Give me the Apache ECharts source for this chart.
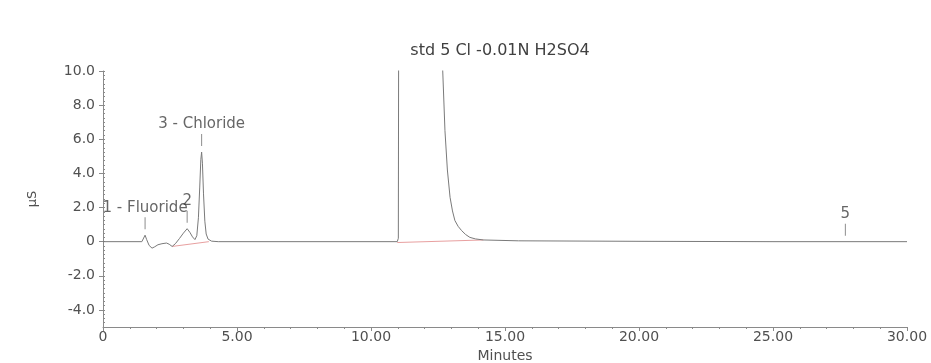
<!DOCTYPE html>
<html>
<head>
<meta charset="utf-8">
<script src="https://cdn.jsdelivr.net/npm/echarts@6/dist/echarts.min.js"></script>
<style>html,body{margin:0;padding:0;background:#fff;}#c{width:931px;height:363px;}</style>
</head>
<body>
<div id="c"></div>
<script>
// Chromatogram trace (minutes, µS)
var traceTimes  = [0, 1.45, 1.52, 1.57, 1.63, 1.72, 1.83, 1.93, 2.05, 2.2, 2.37, 2.47, 2.58, 2.7, 2.85, 3.0, 3.14, 3.24, 3.34, 3.43, 3.5, 3.56, 3.61, 3.65, 3.68, 3.71, 3.75, 3.8, 3.85, 3.92, 4.05, 4.3, 10.98, 11.02, 11.05, 11.8, 12.55, 12.675, 12.76, 12.85, 12.95, 13.04, 13.13, 13.25, 13.38, 13.53, 13.69, 13.9, 14.19, 15.5, 20, 25, 30];
var traceValues = [0, 0, 0.1, 0.38, 0.12, -0.22, -0.38, -0.3, -0.18, -0.12, -0.08, -0.15, -0.28, -0.12, 0.18, 0.5, 0.76, 0.55, 0.28, 0.12, 0.35, 1.4, 3.2, 4.8, 5.25, 4.6, 2.8, 1.2, 0.45, 0.15, 0.03, 0, 0, 0.2, 30, 60, 30, 10.06, 6.5, 4.2, 2.6, 1.8, 1.24, 0.9, 0.65, 0.42, 0.25, 0.16, 0.1, 0.05, 0.02, 0, 0];

// Integration baselines
var baseline1Times  = [2.58, 3.95];
var baseline1Values = [-0.28, 0.0];
var baseline2Times  = [10.98, 14.2];
var baseline2Values = [-0.05, 0.1];

// Peak annotations
var peakNames   = ['1 - Fluoride', '2', '3 - Chloride', '5'];
var peakTimes   = [1.57, 3.14, 3.68, 27.7];
var peakHeights = [0.38, 0.76, 5.25, 0];

var yMajorTicks = [-4, -2, 0, 2, 4, 6, 8, 10];

var FONT = '"DejaVu Sans", Verdana, sans-serif';
var AXIS = '#8a8a8a';
var TEXT = '#505050';

function zip(a, b) { return a.map(function (v, i) { return [v, b[i]]; }); }

var chart = echarts.init(document.getElementById('c'), null, {renderer: 'canvas'});
chart.setOption({
  animation: false,
  backgroundColor: '#ffffff',
  textStyle: {fontFamily: FONT},
  title: {
    text: 'std 5 Cl -0.01N H2SO4',
    left: 495, top: 38, textAlign: 'center',
    textStyle: {fontFamily: FONT, fontSize: 16, fontWeight: 'normal', color: '#404040'}
  },
  grid: {left: 103, right: 24, top: 71, bottom: 36, containLabel: false, outerBoundsMode: 'none'},
  xAxis: [{
    type: 'value', min: 0, max: 30, interval: 5,
    name: 'Minutes', nameLocation: 'middle', nameGap: 22,
    nameTextStyle: {fontFamily: FONT, fontSize: 14, color: TEXT},
    axisLine: {show: true, onZero: false, lineStyle: {color: AXIS, width: 1}},
    axisTick: {show: true, length: 4, lineStyle: {color: AXIS}},
    minorTick: {show: true, splitNumber: 5, length: 2, lineStyle: {color: AXIS}},
    splitLine: {show: false},
    axisLabel: {fontFamily: FONT, fontSize: 14, color: TEXT, margin: 3,
      formatter: function (v) { return v === 0 ? '0' : v.toFixed(2); }}
  }],
  yAxis: [{
    type: 'value', min: -5, max: 10, position: 'left',
    name: 'µS', nameLocation: 'middle', nameGap: 64, nameRotate: 90,
    nameTextStyle: {fontFamily: FONT, fontSize: 13, color: TEXT},
    axisLine: {show: true, onZero: false, lineStyle: {color: AXIS, width: 1}},
    axisTick: {show: true, length: 4, customValues: yMajorTicks, lineStyle: {color: AXIS}},
    splitLine: {show: false},
    axisLabel: {fontFamily: FONT, fontSize: 14, color: TEXT, margin: 8, customValues: yMajorTicks,
      formatter: function (v) { return v === 0 ? '0' : v.toFixed(1); }}
  }, {
    type: 'value', min: -5, max: 10, interval: 0.25, position: 'left', offset: 0,
    axisLine: {show: false},
    axisTick: {show: true, inside: true, length: 2, lineStyle: {color: AXIS}},
    axisLabel: {show: false},
    splitLine: {show: false}
  }],
  series: [{
    type: 'line', name: 'trace', xAxisIndex: 0, yAxisIndex: 0,
    data: zip(traceTimes, traceValues),
    showSymbol: false, symbol: 'none', clip: true,
    lineStyle: {color: '#7a7a7a', width: 1}, z: 3
  }, {
    type: 'line', name: 'base1', data: zip(baseline1Times, baseline1Values),
    symbol: 'none', lineStyle: {color: '#e8a0a0', width: 1}, z: 2
  }, {
    type: 'line', name: 'base2', data: zip(baseline2Times, baseline2Values),
    symbol: 'none', lineStyle: {color: '#e8a0a0', width: 1}, z: 2
  }, {
    type: 'scatter', name: 'peaks',
    data: peakTimes.map(function (t, i) { return {value: [t, peakHeights[i]], name: peakNames[i]}; }),
    symbol: 'rect', symbolSize: [1, 12], symbolOffset: [0, -12],
    itemStyle: {color: '#707070'},
    label: {show: true, position: 'top', distance: 2, formatter: '{b}',
      fontFamily: FONT, fontSize: 15, color: '#404040'},
    z: 4
  }]
});
</script>
</body>
</html>
